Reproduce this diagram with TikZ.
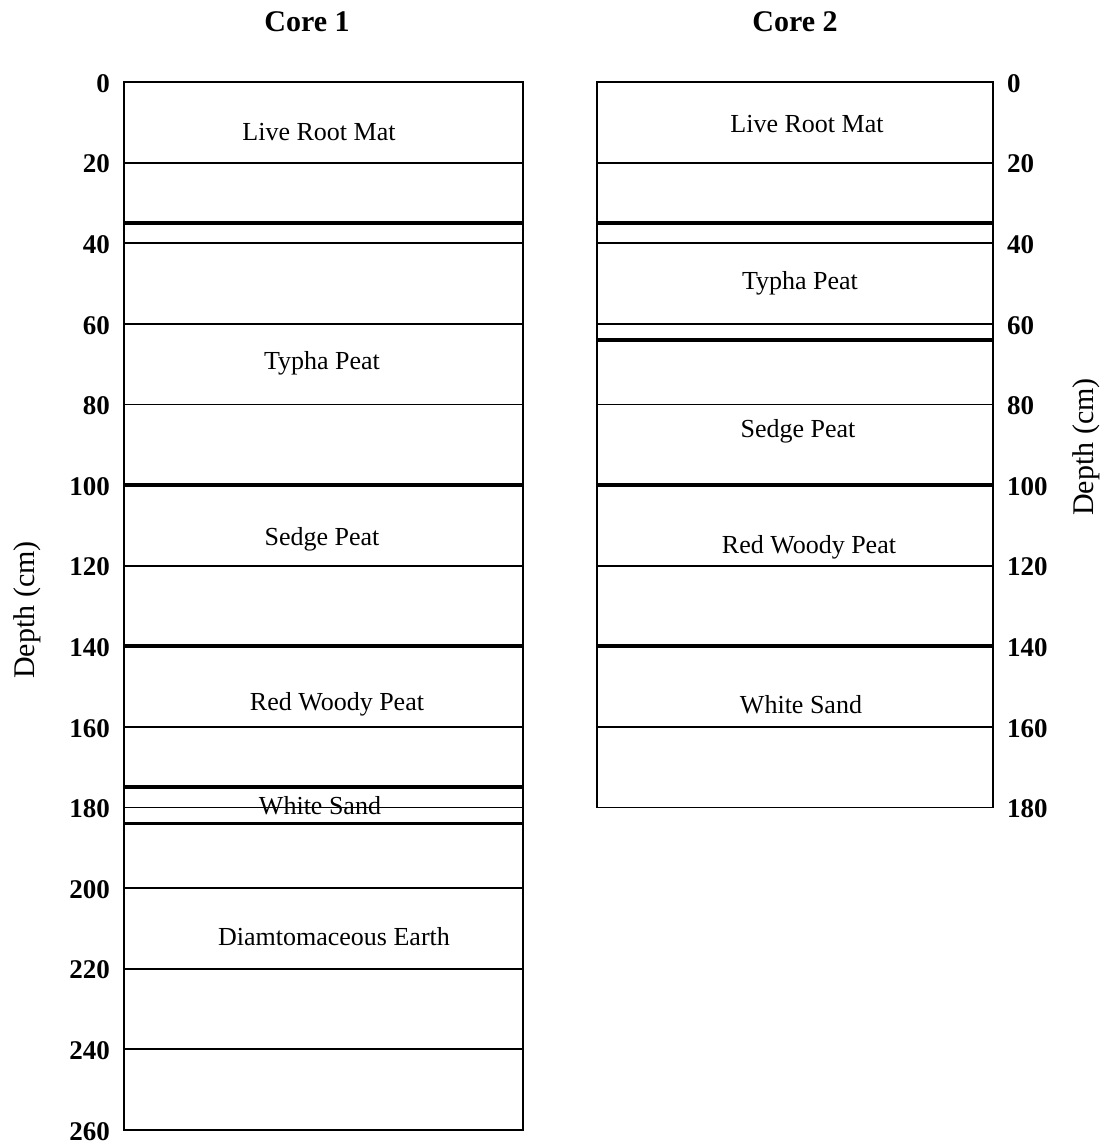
\documentclass[tikz,border=0pt]{standalone}
\usepackage{fontspec}
\setmainfont{Liberation Serif}
\begin{document}
\begin{tikzpicture}[x=1pt,y=-1pt,
  thinline/.style={line width=1.8pt},
  thickline/.style={line width=3.6pt},
  boxline/.style={line width=1.6pt},
  tick/.style={font=\bfseries\fontsize{27}{27}\selectfont, inner sep=0pt},
  layer/.style={font=\fontsize{26}{26}\selectfont, inner sep=1pt},
  title/.style={font=\bfseries\fontsize{30}{30}\selectfont, inner sep=0pt},
  axis/.style={font=\fontsize{30}{30}\selectfont, inner sep=0pt, rotate=90}]
\useasboundingbox (0,0) rectangle (1108,1145);
\def\dy#1{82+4.03*#1}
% Titles
\node[title] (t1) at (307,22) {Core 1};
\node[title] (t2) at (795,22) {Core 2};
% Core 1 box
\draw[boxline] (124,{\dy{0}}) rectangle (523,{\dy{260}});
\foreach \d in {20,40,60,80,120,160,180,200,220,240}
  \draw[thinline] (124,{\dy{\d}}) -- (523,{\dy{\d}});
\foreach \d in {35,100,140,175,184}
  \draw[thickline] (124,{\dy{\d}}) -- (523,{\dy{\d}});
\foreach \d in {0,20,...,260}
  \node[tick, anchor=east] (l\d) at (110,{\dy{\d}+1.5}) {\d};
% Core 2 box
\draw[boxline] (597,{\dy{0}}) rectangle (993,{\dy{180}});
\foreach \d in {20,40,60,80,120,160}
  \draw[thinline] (597,{\dy{\d}}) -- (993,{\dy{\d}});
\foreach \d in {35,64,100,140}
  \draw[thickline] (597,{\dy{\d}}) -- (993,{\dy{\d}});
\foreach \d in {0,20,...,180}
  \node[tick, anchor=west] (r\d) at (1007,{\dy{\d}+1.5}) {\d};
% Axis labels
\node[axis] (ax1) at (27,610) {Depth (cm)};
\node[axis] (ax2) at (1086,447) {Depth (cm)};
% Core 1 layers
\node[layer] (a1) at (319,132) {Live Root Mat};
\node[layer] (a2) at (322,363) {Typha Peat};
\node[layer] (a3) at (322,539) {Sedge Peat};
\node[layer] (a4) at (337,704) {Red Woody Peat};
\node[layer] (a5) at (320,806) {White Sand};
\draw[thinline] (124,{\dy{180}}) -- (523,{\dy{180}});
\node[layer] (a6) at (334,937) {Diamtomaceous Earth};
% Core 2 layers
\node[layer] (b1) at (807,124) {Live Root Mat};
\node[layer] (b2) at (800,283) {Typha Peat};
\node[layer] (b3) at (798,431) {Sedge Peat};
\node[layer] (b4) at (809,547) {Red Woody Peat};
\node[layer] (b5) at (801,705) {White Sand};
\end{tikzpicture}
\end{document}
